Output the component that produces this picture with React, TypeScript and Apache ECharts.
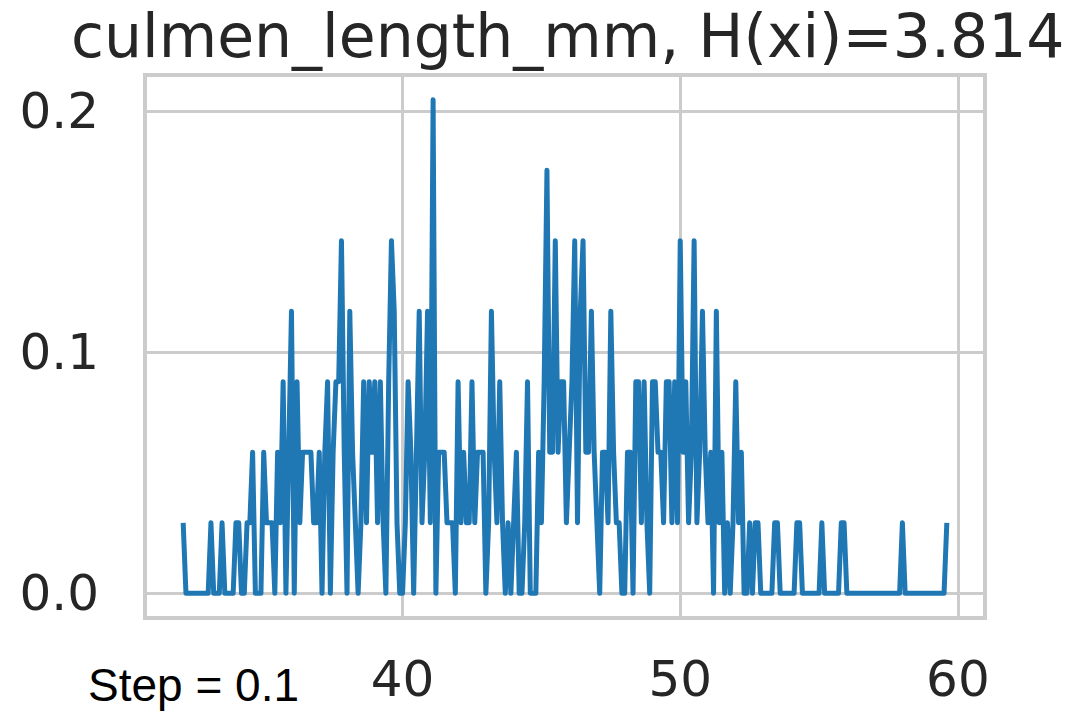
import React, { useEffect, useRef } from 'react';
import * as echarts from 'echarts';

// Probability density of culmen_length_mm on a 0.1 mm grid, from 32.1 to 59.6.
// Each value is a count of penguins per 0.1 mm bin; density = count / (n * step).
const GRID_START_TENTHS = 321; // 32.1 mm
const STEP = 0.1;
const N_OBS = 342;

const counts32 = [1, 0, 0, 0, 0, 0, 0, 0, 0]; // 32.1 .. 32.9
const counts33 = [0, 1, 0, 0, 0, 1, 0, 0, 0, 0];
const counts34 = [1, 1, 0, 0, 1, 1, 2, 0, 0, 0];
const counts35 = [2, 1, 1, 1, 0, 2, 1, 3, 0, 2];
const counts36 = [4, 0, 3, 1, 2, 2, 2, 2, 1, 1];
const counts37 = [2, 0, 2, 3, 0, 2, 3, 3, 5, 2];
const counts38 = [0, 4, 2, 1, 0, 1, 3, 1, 3, 2];
const counts39 = [3, 1, 3, 1, 0, 3, 5, 4, 1, 0];
const counts40 = [0, 1, 3, 2, 0, 2, 4, 1, 2, 4];
const counts41 = [1, 7, 0, 2, 2, 2, 1, 1, 1, 0];
const counts42 = [3, 1, 2, 1, 1, 3, 1, 2, 2, 2];
const counts43 = [0, 1, 4, 2, 1, 3, 1, 0, 1, 0];
const counts44 = [1, 2, 0, 0, 1, 3, 0, 0, 0, 2];
const counts45 = [1, 3, 6, 2, 2, 5, 2, 3, 3, 1];
const counts46 = [2, 3, 5, 1, 4, 5, 2, 2, 4, 2];
const counts47 = [1, 0, 2, 2, 1, 4, 2, 1, 1, 0];
const counts48 = [0, 2, 2, 0, 3, 3, 1, 3, 1, 0];
const counts49 = [3, 3, 2, 2, 1, 3, 3, 1, 3, 1];
const counts50 = [5, 2, 3, 1, 2, 5, 1, 2, 4, 2];
const counts51 = [1, 2, 0, 4, 1, 2, 0, 1, 0, 1];
const counts52 = [3, 1, 2, 0, 0, 1, 0, 1, 1, 0];
const counts53 = [0, 0, 0, 0, 1, 1, 0, 0, 0, 0];
const counts54 = [0, 0, 1, 1, 0, 0, 0, 0, 0, 0];
const counts55 = [0, 1, 0, 0, 0, 0, 0, 0, 1, 1];
const counts56 = [0, 0, 0, 0, 0, 0, 0, 0, 0, 0];
const counts57 = [0, 0, 0, 0, 0, 0, 0, 0, 0, 0];
const counts58 = [1, 0, 0, 0, 0, 0, 0, 0, 0, 0];
const counts59 = [0, 0, 0, 0, 0, 0, 1]; // 59.0 .. 59.6

const allCounts = [
  ...counts32, ...counts33, ...counts34, ...counts35, ...counts36, ...counts37,
  ...counts38, ...counts39, ...counts40, ...counts41, ...counts42, ...counts43,
  ...counts44, ...counts45, ...counts46, ...counts47, ...counts48, ...counts49,
  ...counts50, ...counts51, ...counts52, ...counts53, ...counts54, ...counts55,
  ...counts56, ...counts57, ...counts58, ...counts59,
];

const xTicks = [40, 50, 60];
const yTicks = [0, 0.1, 0.2];
const TITLE = 'culmen_length_mm, H(xi)=3.814';
const NOTE = 'Step = 0.1';

const X_MIN = 30.725;
const X_MAX = 60.975;
const Y_MIN = -0.01023;
const Y_MAX = 0.21491;

export default function App() {
  const ref = useRef<HTMLDivElement>(null);

  useEffect(() => {
    if (!ref.current) return;
    const chart = echarts.init(ref.current, undefined, { renderer: 'svg' });
    const seriesData = allCounts.map((c, i) => [
      (GRID_START_TENTHS + i) / 10,
      c / (N_OBS * STEP),
    ]);
    const textColor = '#262626';
    const gridColor = '#cccccc';
    chart.setOption({
      animation: false,
      backgroundColor: '#ffffff',
      title: {
        text: TITLE,
        left: 71,
        top: 6,
        padding: 0,
        textStyle: {
          fontFamily: 'DejaVu Sans',
          fontSize: 60,
          fontWeight: 'normal',
          color: textColor,
        },
      },
      grid: {
        left: 145,
        right: 104,
        top: 75,
        bottom: 93,
        show: true,
        borderColor: gridColor,
        borderWidth: 4,
        backgroundColor: 'transparent',
        containLabel: false,
      },
      xAxis: {
        type: 'value',
        min: X_MIN,
        max: X_MAX,
        axisLine: { show: false },
        axisTick: { show: false, customValues: xTicks },
        axisLabel: {
          customValues: xTicks,
          fontFamily: 'DejaVu Sans',
          fontSize: 50,
          color: textColor,
          margin: 36,
        },
        splitLine: { show: true, lineStyle: { color: gridColor, width: 3 } },
      },
      yAxis: {
        type: 'value',
        min: Y_MIN,
        max: Y_MAX,
        axisLine: { show: false },
        axisTick: { show: false, customValues: yTicks },
        axisLabel: {
          customValues: yTicks,
          fontFamily: 'DejaVu Sans',
          fontSize: 50,
          color: textColor,
          margin: 46,
          formatter: (v: number) => v.toFixed(1),
        },
        splitLine: { show: true, lineStyle: { color: gridColor, width: 3 } },
      },
      graphic: [
        {
          type: 'text',
          left: 88,
          top: 662,
          style: {
            text: NOTE,
            fill: '#000000',
            font: '46px "Liberation Sans", Arial, sans-serif',
          },
        },
      ],
      series: [
        {
          type: 'line',
          data: seriesData,
          showSymbol: false,
          symbol: 'none',
          clip: true,
          lineStyle: { color: '#1f77b4', width: 5, join: 'round' },
          itemStyle: { color: '#1f77b4' },
        },
      ],
    });
    return () => chart.dispose();
  }, []);

  return (
    <div
      ref={ref}
      style={{ position: 'absolute', left: 0, top: 0, width: 1089, height: 711 }}
    />
  );
}
